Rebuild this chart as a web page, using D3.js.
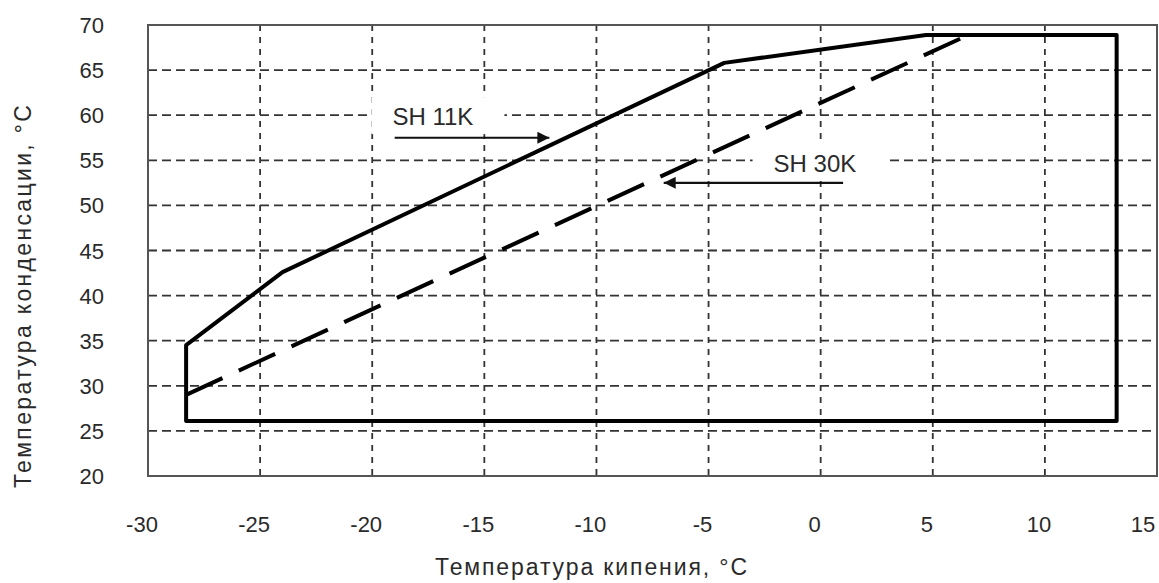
<!DOCTYPE html>
<html>
<head>
<meta charset="utf-8">
<script src="https://cdn.jsdelivr.net/npm/d3@7"></script>
<style>
  body { margin: 0; background: #ffffff; }
  text { font-family: "Liberation Sans", Arial, sans-serif; fill: #2a2a2a; }
</style>
</head>
<body>
<svg id="envelope"></svg>
<script>
const width = 1159, height = 583
const margin = {left: 148, right: 2, top: 25, bottom: 107}

// envelope data (evaporating temp, condensing temp)
const sh11Temps = [-28.3, -28.3, -24.0, -4.3, 4.7, 13.2, 13.2]
const sh11Cond = [26.1, 34.5, 42.6, 65.8, 68.9, 68.9, 26.1]
const sh30Temps = [-28.3, 6.5]
const sh30Cond = [29.0, 68.8]

const xTicks = [-30, -25, -20, -15, -10, -5, 0, 5, 10, 15]
const yTicks = [20, 25, 30, 35, 40, 45, 50, 55, 60, 65, 70]

// annotation labels with arrows: [text x, text y, arrow from x, arrow to x, arrow y]
const labelNames = ["SH 11K", "SH 30K"]
const labelPos = [[-19.1, 58.9, -19.0, -12.1, 57.5], [-2.1, 53.7, 1.0, -7.0, 52.5]]

const svg = d3.select("svg#envelope")
    .attr("viewBox", [0, 0, width, height])
    .attr("width", width)
    .attr("height", height)

const x = d3.scaleLinear().domain([-30, 15]).range([margin.left, width - margin.right])
const y = d3.scaleLinear().domain([20, 70]).range([height - margin.bottom, margin.top])

// grid
svg.append("g").selectAll("line")
    .data(xTicks.slice(1, -1))
    .enter().append("line")
    .attr("x1", d => x(d)).attr("x2", d => x(d))
    .attr("y1", y(70)).attr("y2", y(20))
    .attr("stroke", "#333")
    .attr("stroke-width", 1.8)
    .attr("stroke-dasharray", "6,6")

svg.append("g").selectAll("line")
    .data(yTicks.slice(1, -1))
    .enter().append("line")
    .attr("x1", x(-30)).attr("x2", x(15))
    .attr("y1", d => y(d)).attr("y2", d => y(d))
    .attr("stroke", "#333")
    .attr("stroke-width", 1.8)
    .attr("stroke-dasharray", "9,5")

// frame
svg.append("rect")
    .attr("x", x(-30)).attr("y", y(70))
    .attr("width", x(15) - x(-30)).attr("height", y(20) - y(70))
    .attr("fill", "none")
    .attr("stroke", "#555")
    .attr("stroke-width", 2)

// tick labels
svg.append("g").selectAll("text")
    .data(xTicks)
    .enter().append("text")
    .attr("x", d => d === 15 ? x(d) - 14 : x(d) - 6)
    .attr("y", 532)
    .attr("text-anchor", "middle")
    .style("font-size", "22px")
    .text(d => d)

svg.append("g").selectAll("text")
    .data(yTicks)
    .enter().append("text")
    .attr("x", 104)
    .attr("y", d => y(d) + 8)
    .attr("text-anchor", "end")
    .style("font-size", "22px")
    .text(d => d)

// axis titles
svg.append("text")
    .attr("x", 435).attr("y", 575)
    .attr("textLength", 312)
    .attr("lengthAdjust", "spacing")
    .style("font-size", "23px")
    .text("Температура  кипения, °C")

svg.append("text")
    .attr("transform", "translate(31, 488) rotate(-90)")
    .attr("textLength", 383)
    .attr("lengthAdjust", "spacing")
    .style("font-size", "23px")
    .text("Температура  конденсации, °С")

// label boxes (white) hide the grid behind the text
const labels = svg.selectAll("g.label")
    .data(d3.zip(labelNames, labelPos))
    .enter().append("g").attr("class", "label")

labels.append("rect")
    .attr("x", d => x(d[1][0]) - 21)
    .attr("y", d => y(d[1][1]) - 28)
    .attr("width", 133)
    .attr("height", 37)
    .attr("fill", "#fff")

labels.append("text")
    .attr("x", d => x(d[1][0]))
    .attr("y", d => y(d[1][1]))
    .style("font-size", "24px")
    .text(d => d[0])

// envelope lines
const line = d3.line().x(d => x(d[0])).y(d => y(d[1]))

svg.append("path")
    .attr("d", line(d3.zip(sh11Temps, sh11Cond)) + "Z")
    .attr("fill", "none")
    .attr("stroke", "#000")
    .attr("stroke-width", 4)
    .attr("stroke-linejoin", "round")

svg.append("path")
    .attr("d", line(d3.zip(sh30Temps, sh30Cond)))
    .attr("fill", "none")
    .attr("stroke", "#000")
    .attr("stroke-width", 4)
    .attr("stroke-dasharray", "40,18")

// arrows
svg.append("defs").append("marker")
    .attr("id", "arrow")
    .attr("viewBox", "0 0 10 10")
    .attr("refX", 10).attr("refY", 5)
    .attr("markerWidth", 16).attr("markerHeight", 12)
    .attr("markerUnits", "userSpaceOnUse")
    .attr("orient", "auto")
    .append("path")
    .attr("d", "M0,0L10,5L0,10Z")
    .attr("fill", "#111")

labels.append("line")
    .attr("x1", d => x(d[1][2])).attr("x2", d => x(d[1][3]))
    .attr("y1", d => y(d[1][4])).attr("y2", d => y(d[1][4]))
    .attr("stroke", "#111")
    .attr("stroke-width", 2.2)
    .attr("marker-end", "url(#arrow)")
</script>
</body>
</html>
